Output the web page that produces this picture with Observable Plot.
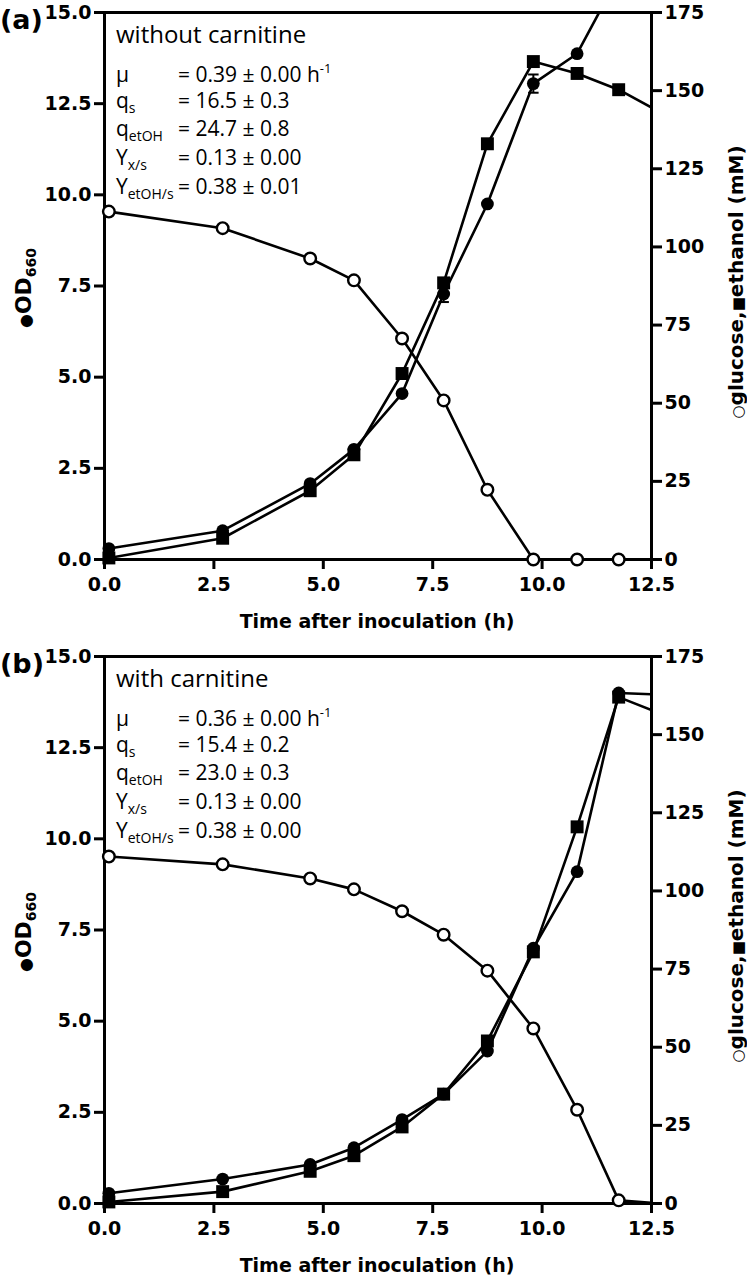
<!DOCTYPE html>
<html><head><meta charset="utf-8">
<script src="https://cdn.jsdelivr.net/npm/d3@7"></script>
<script src="https://cdn.jsdelivr.net/npm/@observablehq/plot@0.6"></script>
<style>
body{margin:0;background:#fff;}
#root{position:relative;width:747px;height:1280px;overflow:hidden;background:#fff;}
#root svg{display:block;}
</style></head>
<body><div id="root"></div>
<script>
// ---- data ----
const time = [0.1, 2.7, 4.7, 5.7, 6.8, 7.75, 8.75, 9.8, 10.8, 11.75, 12.75];

const odA  = [0.3, 0.79, 2.08, 3.02, 4.55, 7.28, 9.75, 13.05, 13.87, 16.0, NaN];
const odErrA = [0, 0, 0, 0, 0, 0.22, 0, 0.25, 0, 0, 0];
const gluA = [111.3, 106, 96.3, 89.3, 70.7, 50.9, 22.3, 0, 0, 0, NaN];
const ethA = [0.5, 6.8, 22, 33.5, 59.5, 88.5, 133, 159.3, 155.5, 150.3, 142.7];

const odB  = [0.28, 0.67, 1.07, 1.53, 2.3, 3.0, 4.18, 7.0, 9.1, 14.0, 13.95];
const odErrB = [0, 0, 0, 0, 0, 0, 0, 0, 0, 0, 0];
const gluB = [111, 108.5, 104, 100.5, 93.5, 86, 74.5, 56, 30, 1, 0];
const ethB = [0.5, 3.8, 10.3, 15.3, 24.5, 35, 52, 80.5, 120.5, 162, 156.5];

const xTicks  = [0, 2.5, 5, 7.5, 10, 12.5];
const odTicks = [0, 2.5, 5, 7.5, 10, 12.5, 15];
const mmTicks = [0, 25, 50, 75, 100, 125, 150, 175];

const paramNames = [["μ",""],["q","s"],["q","etOH"],["Y","x/s"],["Y","etOH/s"]];
const paramsA = ["= 0.39 ± 0.00", "= 16.5 ± 0.3", "= 24.7 ± 0.8", "= 0.13 ± 0.00", "= 0.38 ± 0.01"];
const paramsB = ["= 0.36 ± 0.00", "= 15.4 ± 0.2", "= 23.0 ± 0.3", "= 0.13 ± 0.00", "= 0.38 ± 0.00"];

const xTitle = "Time after inoculation (h)";
const odMax = 15, mmMax = 175;
const k = odMax / mmMax;

function panel(cfg) {
  const od = time.map((t, i) => ({t, v: cfg.od[i], e: cfg.err[i]}));
  const glu = time.map((t, i) => ({t, v: cfg.glu[i] * k}));
  const eth = time.map((t, i) => ({t, v: cfg.eth[i] * k}));
  const inside = d => d.t <= 12.5 && d.v <= odMax && !isNaN(d.v);
  const errs = od.filter(d => d.e > 0);
  const plotH = 547;
  const svg = Plot.plot({
    width: 747, height: cfg.height,
    marginTop: 12, marginLeft: 104, marginRight: 96, marginBottom: cfg.height - 12 - plotH,
    x: {domain: [0, 12.5]},
    y: {domain: [0, odMax]},
    style: {fontFamily: "DejaVu Sans", fontWeight: "bold", fontSize: "19px", color: "#000", background: "#fff"},
    marks: [
      Plot.axisX(xTicks, {tickFormat: d => d.toFixed(1), tickSize: 10, tickPadding: 8, strokeWidth: 3, label: null}),
      Plot.axisY(odTicks, {tickFormat: d => d.toFixed(1), tickSize: 10, tickPadding: 3, strokeWidth: 3, label: null}),
      Plot.axisY(mmTicks.map(v => v * k), {anchor: "right", tickFormat: d => String(Math.round(d / k)), tickSize: 10, tickPadding: 3, strokeWidth: 3, label: null}),
      Plot.frame({stroke: "black", strokeWidth: 3}),
      Plot.line(glu, {x: "t", y: "v", stroke: "black", strokeWidth: 2.6, clip: true}),
      Plot.line(eth, {x: "t", y: "v", stroke: "black", strokeWidth: 2.6, clip: true}),
      Plot.line(od, {x: "t", y: "v", stroke: "black", strokeWidth: 2.6, clip: true}),
      Plot.ruleX(errs, {x: "t", y1: d => d.v - d.e, y2: d => d.v + d.e, stroke: "black", strokeWidth: 2}),
      Plot.link(errs, {x1: d => d.t - 0.12, x2: d => d.t + 0.12, y1: d => d.v - d.e, y2: d => d.v - d.e, stroke: "black", strokeWidth: 2}),
      Plot.link(errs, {x1: d => d.t - 0.12, x2: d => d.t + 0.12, y1: d => d.v + d.e, y2: d => d.v + d.e, stroke: "black", strokeWidth: 2}),
      Plot.dot(glu, {filter: inside, x: "t", y: "v", r: 5.8, fill: "white", stroke: "black", strokeWidth: 2.4}),
      Plot.dot(eth, {filter: inside, x: "t", y: "v", symbol: "square", r: 7.3, fill: "black"}),
      Plot.dot(od, {filter: inside, x: "t", y: "v", r: 6.4, fill: "black"})
    ]
  });

  const s = d3.select(svg);
  const g = s.append("g").attr("fill", "#000").attr("text-anchor", "start");
  const bold = sel => sel.attr("font-family", "DejaVu Sans").attr("font-weight", "bold");
  // panel tag
  bold(g.append("text")).attr("x", 0).attr("y", 29).attr("font-size", 27).text(cfg.tag);
  // x title
  bold(g.append("text")).attr("x", 377).attr("y", 628).attr("text-anchor", "middle").attr("font-size", 19).text(xTitle);
  // left axis label
  const ll = bold(g.append("text")).attr("transform", "translate(31,288) rotate(-90)")
    .attr("text-anchor", "middle").attr("font-size", 22);
  ll.append("tspan").attr("font-size", 16).text("●");
  ll.append("tspan").text("OD");
  ll.append("tspan").attr("font-size", 14).attr("dy", 5).text("660");
  // right axis label
  const rl = bold(g.append("text")).attr("transform", "translate(743,282) rotate(-90)")
    .attr("text-anchor", "middle").attr("font-size", 20);
  rl.append("tspan").attr("font-size", 15).text("○");
  rl.append("tspan").text("glucose,");
  rl.append("tspan").attr("font-size", 15).text("■");
  rl.append("tspan").text("ethanol (mM)");
  // inset text
  const inset = sel => sel.attr("font-family", "'Open Sans'").attr("font-weight", "normal").attr("text-anchor", "start");
  inset(g.append("text")).attr("x", 116).attr("y", 43).attr("font-size", 24).text(cfg.title);
  const base = [82, 108, 136, 165, 194];
  paramNames.forEach((p, i) => {
    const t = inset(g.append("text")).attr("x", 116).attr("y", base[i]).attr("font-size", 21);
    t.append("tspan").text(p[0]);
    if (p[1]) t.append("tspan").attr("font-size", 14).attr("dy", 5).text(p[1]);
    const v = inset(g.append("text")).attr("x", 178).attr("y", base[i]).attr("font-size", 21);
    v.append("tspan").text(cfg.params[i]);
    if (i === 0) {
      v.append("tspan").text(" h");
      v.append("tspan").attr("font-size", 13).attr("dy", -9).text("-1");
    }
  });
  return svg;
}

const root = document.getElementById("root");
root.appendChild(panel({tag: "(a)", title: "without carnitine", params: paramsA, od: odA, err: odErrA, glu: gluA, eth: ethA, height: 644}));
root.appendChild(panel({tag: "(b)", title: "with carnitine", params: paramsB, od: odB, err: odErrB, glu: gluB, eth: ethB, height: 636}));
</script>
</body></html>
